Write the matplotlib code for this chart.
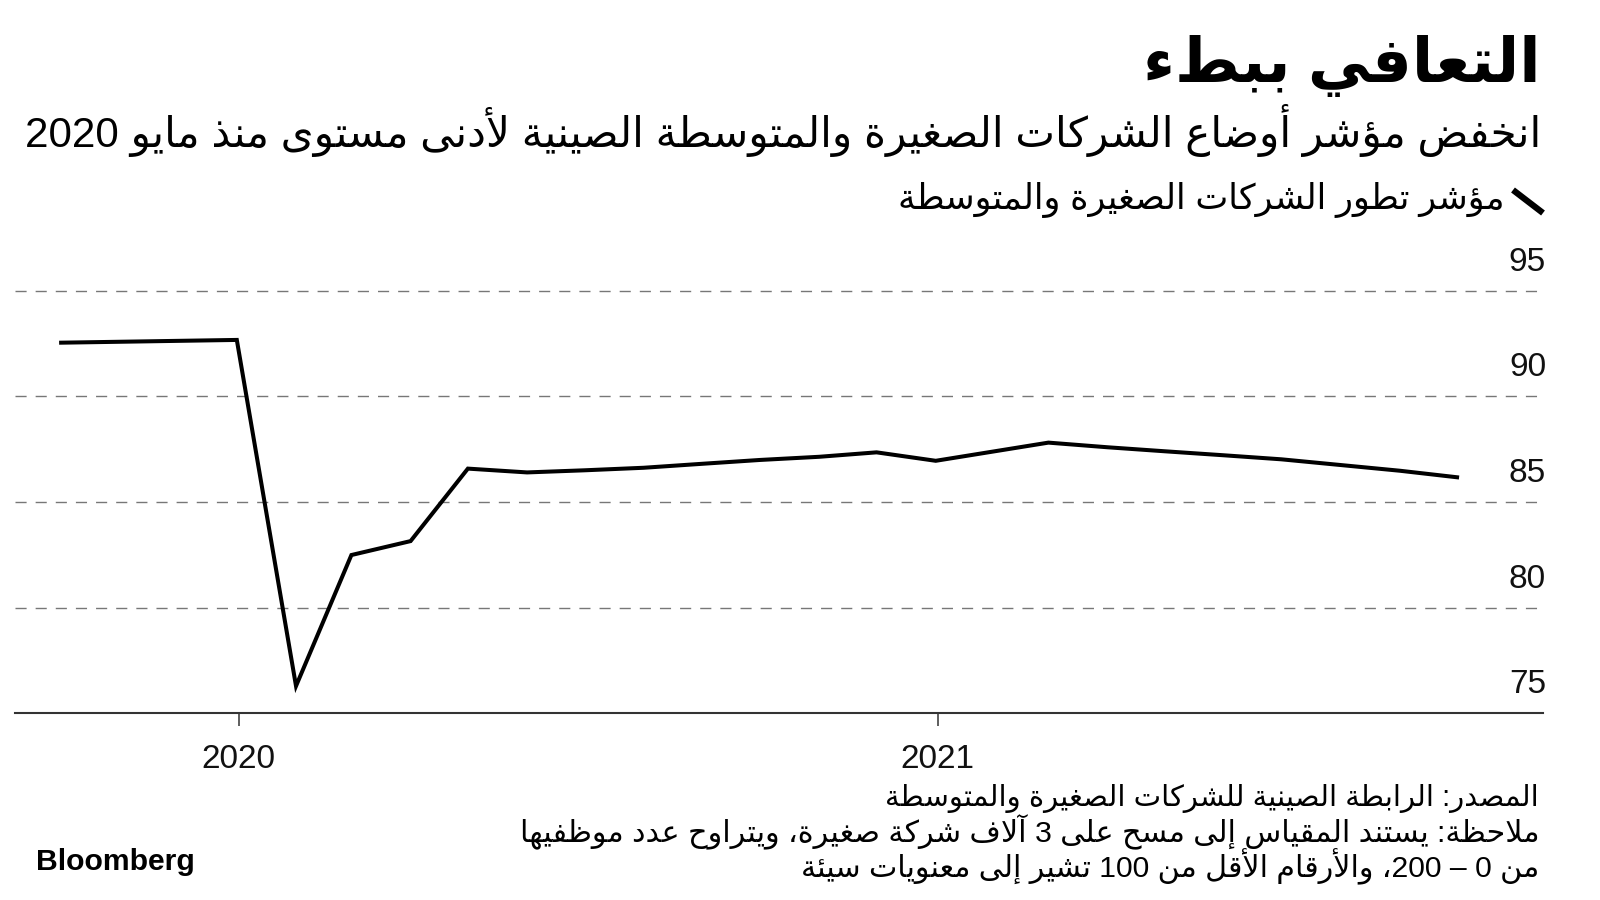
import re
import matplotlib
matplotlib.use("Agg")
import matplotlib.pyplot as plt
import matplotlib.dates as mdates
import matplotlib.transforms as mtransforms
from matplotlib.lines import Line2D
import pandas as pd

# data (monthly index, month-end dated, only the vertices of the line)
months = ["2019-09", "2019-12", "2020-01", "2020-02", "2020-03", "2020-04",
          "2020-05", "2020-06", "2020-07", "2020-08", "2020-09", "2020-10",
          "2020-11", "2020-12", "2021-02", "2021-03", "2021-04", "2021-05",
          "2021-06", "2021-07", "2021-08", "2021-09"]
smedi = [92.54, 92.67, 76.29, 82.49, 83.15, 86.58,
         86.40, 86.50, 86.62, 86.81, 86.99, 87.14,
         87.35, 86.95, 87.81, 87.59, 87.40, 87.21,
         87.02, 86.75, 86.48, 86.17]
y_ticks = [75, 80, 85, 90, 95]

title = "التعافي ببطء"
subtitle = "انخفض مؤشر أوضاع الشركات الصغيرة والمتوسطة الصينية لأدنى مستوى منذ مايو 2020"
legend_label = "مؤشر تطور الشركات الصغيرة والمتوسطة"
source = "المصدر: الرابطة الصينية للشركات الصغيرة والمتوسطة"
note_1 = "ملاحظة: يستند المقياس إلى مسح على 3 آلاف شركة صغيرة، ويتراوح عدد موظفيها"
note_2 = "من 0 – 200، والأرقام الأقل من 100 تشير إلى معنويات سيئة"

# matplotlib has no arabic shaping, so pick the presentation forms by hand
# letter -> (isolated form, number of forms)  2 = joins right only, 4 = both sides
FORMS = {
    'ء': (0xFE80, 1), 'آ': (0xFE81, 2), 'أ': (0xFE83, 2), 'ؤ': (0xFE85, 2),
    'إ': (0xFE87, 2), 'ئ': (0xFE89, 4), 'ا': (0xFE8D, 2), 'ب': (0xFE8F, 4),
    'ة': (0xFE93, 2), 'ت': (0xFE95, 4), 'ث': (0xFE99, 4), 'ج': (0xFE9D, 4),
    'ح': (0xFEA1, 4), 'خ': (0xFEA5, 4), 'د': (0xFEA9, 2), 'ذ': (0xFEAB, 2),
    'ر': (0xFEAD, 2), 'ز': (0xFEAF, 2), 'س': (0xFEB1, 4), 'ش': (0xFEB5, 4),
    'ص': (0xFEB9, 4), 'ض': (0xFEBD, 4), 'ط': (0xFEC1, 4), 'ظ': (0xFEC5, 4),
    'ع': (0xFEC9, 4), 'غ': (0xFECD, 4), 'ف': (0xFED1, 4), 'ق': (0xFED5, 4),
    'ك': (0xFED9, 4), 'ل': (0xFEDD, 4), 'م': (0xFEE1, 4), 'ن': (0xFEE5, 4),
    'ه': (0xFEE9, 4), 'و': (0xFEED, 2), 'ى': (0xFEEF, 2), 'ي': (0xFEF1, 4),
}
LAM_ALEF = {'آ': 0xFEF5, 'أ': 0xFEF7, 'إ': 0xFEF9, 'ا': 0xFEFB}


def shape(s):
    units = []
    i = 0
    while i < len(s):
        if s[i] == 'ل' and i + 1 < len(s) and s[i + 1] in LAM_ALEF:
            units.append(('la', s[i + 1]))
            i += 2
        else:
            units.append(s[i])
            i += 1

    def n_forms(u):
        if isinstance(u, tuple):
            return 2
        return FORMS.get(u, (0, 0))[1]

    out = []
    for k, u in enumerate(units):
        prev = units[k - 1] if k > 0 else None
        nxt = units[k + 1] if k + 1 < len(units) else None
        join_prev = prev is not None and n_forms(prev) == 4 and n_forms(u) >= 2
        join_next = nxt is not None and n_forms(u) == 4 and n_forms(nxt) >= 2
        if isinstance(u, tuple):
            out.append(chr(LAM_ALEF[u[1]] + (1 if join_prev else 0)))
        elif u in FORMS:
            base, n = FORMS[u]
            if n == 4:
                off = 3 if (join_prev and join_next) else 1 if join_prev else 2 if join_next else 0
            elif n == 2:
                off = 1 if join_prev else 0
            else:
                off = 0
            out.append(chr(base + off))
        else:
            out.append(u)
    return ''.join(out)


def rtl(s):
    # shape, then put into visual order, keeping digit runs left to right
    s = shape(s)
    parts = re.split(r'([0-9]+)', s)
    return ''.join(p if p.isdigit() else p[::-1] for p in reversed(parts))


df = pd.DataFrame({"date": pd.to_datetime(months) + pd.offsets.MonthEnd(0), "value": smedi})

W, H = 1600, 900
fig = plt.figure(figsize=(16, 9), dpi=100)
fig.patch.set_facecolor("white")


def px(x, y):
    return x / W, 1 - y / H


# axes: x 15..1543 px, 75 at y=713 px, 21.13 px per point
ax = fig.add_axes([15.3 / W, 1 - 713.3 / H, (1543 - 15.3) / W, 21 * 21.13 / H])
ax.plot(df["date"], df["value"], color="black", lw=2.9, solid_joinstyle="miter")
ax.set_xlim(pd.Timestamp("2019-09-06"), pd.Timestamp("2021-11-14"))
ax.set_ylim(75, 96)

for side in ["top", "left", "right"]:
    ax.spines[side].set_visible(False)
ax.spines["bottom"].set_color("#333333")
ax.spines["bottom"].set_linewidth(1.5)

ax.set_yticks(y_ticks)
ax.tick_params(axis="y", length=0, labelleft=False, labelright=False)
ax.yaxis.grid(True, color="#777777", lw=1.0, linestyle=(0, (8, 6.5)))
for gl in ax.get_ygridlines():
    gl.set_clip_on(False)
ax.get_ygridlines()[0].set_visible(False)

ax.xaxis.set_major_locator(mdates.YearLocator())
ax.xaxis.set_major_formatter(mdates.DateFormatter("%Y"))
ax.tick_params(axis="x", length=9.4, width=1.1, color="#333333", pad=13,
               labelsize=24, labelcolor="#111111")
for lbl in ax.get_xticklabels():
    lbl.set_fontfamily("Liberation Sans")

# y labels sit above their gridlines, flush right
lab_trans = mtransforms.offset_copy(ax.get_yaxis_transform(), fig=fig, x=3, y=20, units="dots")
for v in y_ticks:
    ax.text(1.0, v, str(v), transform=lab_trans, ha="right", va="baseline",
            fontsize=24, family="Liberation Sans", color="#111111")

ar_family = ["Liberation Sans", "DejaVu Sans"]
renderer = fig.canvas.get_renderer()


def put(text, x, y, width, bold=False, size=20):
    t = fig.text(*px(x, y), rtl(text), ha="right", va="baseline", fontsize=size,
                 family=ar_family, fontweight="bold" if bold else "normal", color="black")
    bb = t.get_window_extent(renderer)
    t.set_fontsize(size * width / bb.width)
    return t


put(title, 1541, 82, 398, bold=True, size=38)
put(subtitle, 1541, 147, 1512, size=26)
put(legend_label, 1505, 209, 609, size=22)
put(source, 1539, 806, 653, size=20)
put(note_1, 1539, 842, 1019, size=20)
put(note_2, 1539, 877, 740, size=20)

# legend key: short thick slanted stroke
fig.add_artist(Line2D([1513 / W, 1543 / W], [1 - 190 / H, 1 - 213 / H],
                      color="black", lw=4.5, solid_capstyle="butt"))

fig.text(*px(36, 870), "Bloomberg", ha="left", va="baseline", fontsize=21.7,
         family="Liberation Sans", fontweight="bold", color="black")

fig.savefig("out.png", dpi=100, facecolor="white")
